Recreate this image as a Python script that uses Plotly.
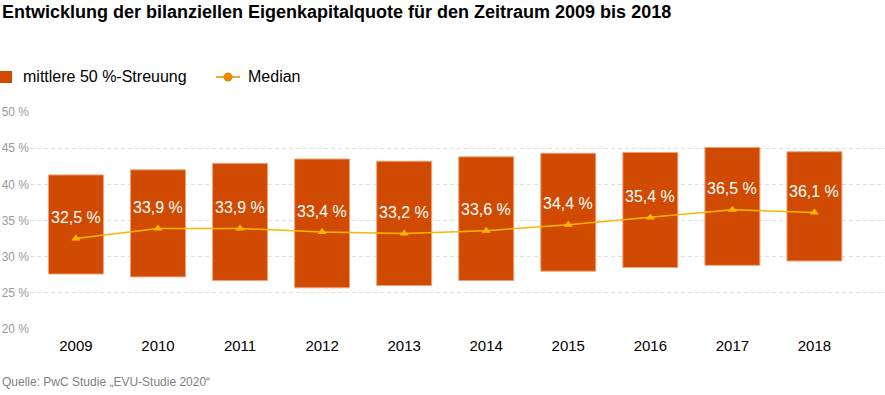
import plotly.graph_objects as go

years = [2009, 2010, 2011, 2012, 2013, 2014, 2015, 2016, 2017, 2018]
q_low = [27.6, 27.2, 26.7, 25.7, 26.0, 26.7, 28.0, 28.5, 28.8, 29.4]
q_high = [41.3, 42.0, 42.9, 43.5, 43.2, 43.8, 44.3, 44.4, 45.1, 44.5]
median = [32.5, 33.9, 33.9, 33.4, 33.2, 33.6, 34.4, 35.4, 36.5, 36.1]
y_ticks = [20, 25, 30, 35, 40, 45, 50]
y_tick_labels = [f"{v} %" for v in y_ticks]
legend_names = ["mittlere 50 %-Streuung", "Median"]

FONT = "Liberation Sans, Arial, Helvetica, sans-serif"
BAR = "#D04A02"
LINE = "#FFB600"
LEG_LINE = "#EB8C00"

W, H = 885, 395
ML, MR, MT, MB = 30, 0, 112, 66
PW, PH = W - ML - MR, H - MT - MB


def px_x(px):
    return (px - ML) / PW


def px_y(py):
    return (H - MB - py) / PH


fig = go.Figure()
fig.add_trace(go.Bar(
    x=years, y=[h - l for h, l in zip(q_high, q_low)], base=q_low,
    width=0.67, marker=dict(color=BAR, line=dict(color="#EFA27A", width=1)),
    name=legend_names[0], showlegend=False,
))
fig.add_trace(go.Scatter(
    x=years, y=median, mode="lines+markers",
    line=dict(color=LINE, width=1.5),
    marker=dict(symbol="triangle-up", size=8, color=LINE),
    showlegend=False, name=legend_names[1],
))

for x, m in zip(years, median):
    fig.add_annotation(x=x, y=m, text=f"{m:.1f} %".replace(".", ","),
                       showarrow=False, yshift=21,
                       font=dict(color="white", size=16, family=FONT))

# title and source
fig.add_annotation(xref="paper", yref="paper", x=px_x(0), y=px_y(0), xanchor="left", yanchor="top",
                   text="<b>Entwicklung der bilanziellen Eigenkapitalquote für den Zeitraum 2009 bis 2018</b>",
                   showarrow=False, font=dict(size=18, color="#000000", family=FONT))
fig.add_annotation(xref="paper", yref="paper", x=px_x(0), y=px_y(391), xanchor="left", yanchor="bottom",
                   text="Quelle: PwC Studie „EVU-Studie 2020“", showarrow=False,
                   font=dict(size=12, color="#7F7F7F", family=FONT))

# manual legend
LEG_Y = 77
fig.add_shape(type="rect", xref="paper", yref="paper",
              x0=px_x(0), x1=px_x(12), y0=px_y(71), y1=px_y(83),
              fillcolor=BAR, line=dict(width=0))
fig.add_annotation(xref="paper", yref="paper", x=px_x(21), y=px_y(LEG_Y), xanchor="left", yanchor="middle",
                   text=legend_names[0], showarrow=False,
                   font=dict(size=16, color="#000000", family=FONT))
fig.add_shape(type="line", xref="paper", yref="paper",
              x0=px_x(216), x1=px_x(240), y0=px_y(LEG_Y), y1=px_y(LEG_Y),
              line=dict(color=LEG_LINE, width=1.5))
fig.add_shape(type="circle", xref="paper", yref="paper",
              x0=px_x(223.5), x1=px_x(232.5), y0=px_y(72.5), y1=px_y(81.5),
              fillcolor=LEG_LINE, line=dict(width=0))
fig.add_annotation(xref="paper", yref="paper", x=px_x(246), y=px_y(LEG_Y), xanchor="left", yanchor="middle",
                   text=legend_names[1], showarrow=False,
                   font=dict(size=16, color="#000000", family=FONT))

fig.update_layout(
    width=W, height=H,
    margin=dict(l=ML, r=MR, t=MT, b=MB),
    plot_bgcolor="white", paper_bgcolor="white",
    font=dict(family=FONT, color="#000000"),
    showlegend=False,
    xaxis=dict(range=[2008.44, 2018.86], tickvals=years, ticktext=[str(y) for y in years],
               showgrid=False, zeroline=False, showline=False, ticks="",
               tickfont=dict(size=15, color="#000000"), ticklabelstandoff=6),
    yaxis=dict(range=[20, 50], tickvals=y_ticks, ticktext=y_tick_labels,
               showgrid=True, gridcolor="#E0E0E0", griddash="4px,3px", gridwidth=1,
               zeroline=False, showline=False, ticks="",
               tickfont=dict(size=12, color="#9A9A9A")),
)

fig.write_html("out.html", config={"displayModeBar": False},
               post_script="document.body.style.margin='0';")
